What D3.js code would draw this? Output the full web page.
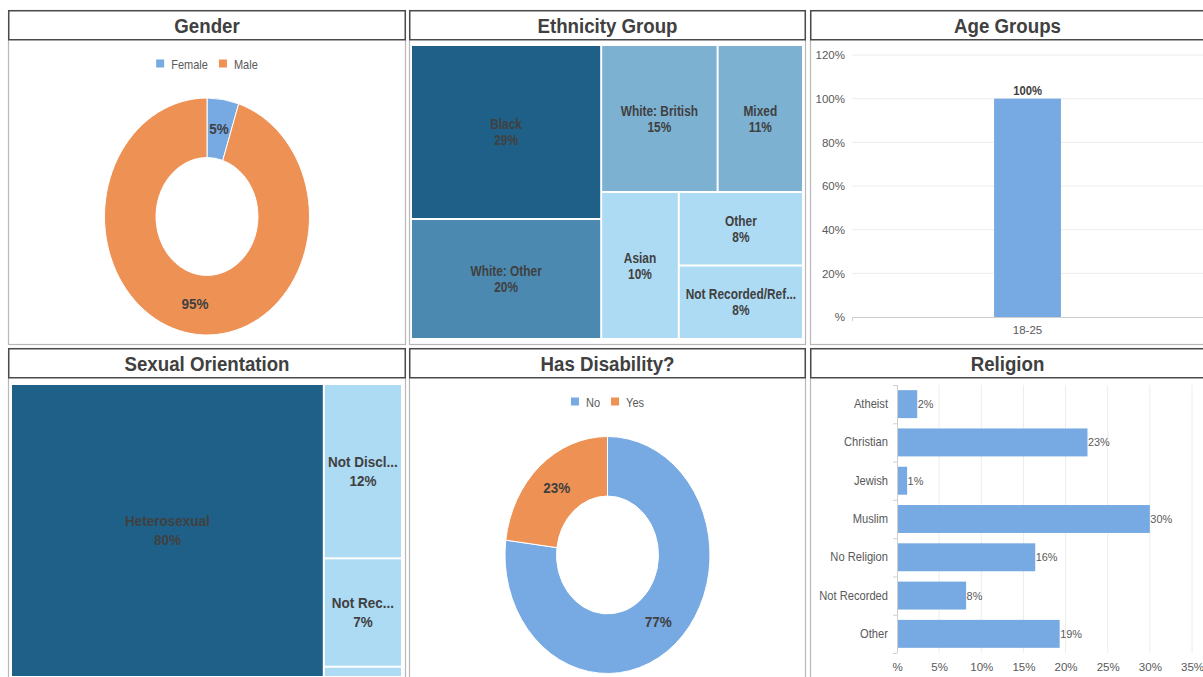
<!DOCTYPE html>
<html>
<head>
<meta charset="utf-8">
<script src="https://cdn.jsdelivr.net/npm/d3@7/dist/d3.min.js"></script>
<style>
  body { margin: 0; background: #fff; }
  svg { display: block; font-family: "Liberation Sans", Arial, sans-serif; }
</style>
</head>
<body>
<svg id="chart" width="1203" height="677"></svg>
<script>
// ---- data ----
const genderLabels = ["Female", "Male"];
const genderValues = [0.05, 0.95];

const ethnicityGroups = ["Black", "White: Other", "White: British", "Mixed", "Asian", "Other", "Not Recorded/Refused"];
const ethnicityValues = [0.29, 0.20, 0.15, 0.11, 0.10, 0.08, 0.08];

const ageGroups = ["18-25"];
const ageValues = [1.00];

const orientationGroups = ["Heterosexual", "Not Disclosed", "Not Recorded", "Other"];
const orientationValues = [0.80, 0.119, 0.074, 0.007];

const disabilityLabels = ["No", "Yes"];
const disabilityValues = [0.77, 0.23];

const religions = ["Atheist", "Christian", "Jewish", "Muslim", "No Religion", "Not Recorded", "Other"];
const religionValues = [0.024, 0.226, 0.012, 0.300, 0.164, 0.082, 0.193];

const ageTicks = [0, 0.2, 0.4, 0.6, 0.8, 1.0, 1.2];
const religionTicks = [0, 0.05, 0.10, 0.15, 0.20, 0.25, 0.30, 0.35];

// ---- look ----
const BLUE = "#77a9e3", ORANGE = "#ee9155";
const TXT = "#404040", AXTXT = "#595959";
const pct = v => v === 0 ? "%" : Math.round(v * 100) + "%";

const svg = d3.select("#chart");
const cols = [[8, 406], [409, 806], [810, 1215]];
const rows = [[10, 345], [348, 700]];

function putText(g, x, y, txt, size, weight, sx, fill, anchor) {
  return g.append("text")
    .attr("transform", `translate(${x},${y}) scale(${sx},1)`)
    .attr("text-anchor", anchor || "middle")
    .attr("font-size", size + "px")
    .attr("font-weight", weight)
    .attr("fill", fill || TXT)
    .text(txt);
}

function panel(ci, ri, title) {
  const [x0, x1] = cols[ci], [y0, y1] = rows[ri];
  svg.append("rect").attr("x", x0 + 0.5).attr("y", y0 + 0.5)
    .attr("width", x1 - x0 - 1).attr("height", y1 - y0 - 1)
    .attr("fill", "#fff").attr("stroke", "#b8b8b8").attr("stroke-width", 1.2);
  svg.append("rect").attr("x", x0 + 0.75).attr("y", y0 + 0.75)
    .attr("width", x1 - x0 - 1.5).attr("height", 29)
    .attr("fill", "#fff").attr("stroke", "#4a4a4a").attr("stroke-width", 1.5);
  putText(svg, (x0 + Math.min(x1, 1203)) / 2 + (ci === 2 ? 1 : 0), y0 + 23, title, 21, "bold", 0.89);
}

panel(0, 0, "Gender");
panel(1, 0, "Ethnicity Group");
panel(2, 0, "Age Groups");
panel(0, 1, "Sexual Orientation");
panel(1, 1, "Has Disability?");
panel(2, 1, "Religion");

// ---- donut helper ----
function donut(labels, values, cx, cy, legendY) {
  const g = svg.append("g");
  const color = d3.scaleOrdinal().domain(labels).range([BLUE, ORANGE]);
  const ry = 1.156;
  const arc = d3.arc().innerRadius(51).outerRadius(102.5);
  const pie = d3.pie().sort(null).value(d => d.value);
  const data = pie(labels.map((l, i) => ({ label: l, value: values[i] })));

  g.append("g").attr("transform", `translate(${cx},${cy}) scale(1,${ry})`)
    .selectAll("path").data(data).enter().append("path")
    .attr("d", arc)
    .attr("fill", d => color(d.data.label))
    .attr("stroke", "#fff").attr("stroke-width", 1)
    .attr("vector-effect", "non-scaling-stroke");

  data.forEach(d => {
    const [x, y] = arc.centroid(d);
    putText(g, cx + x, cy + y * ry + 5, pct(d.data.value), 15, "bold", 0.9);
  });

  // legend
  const lg = g.append("g");
  let x = 0;
  labels.forEach((l, i) => {
    lg.append("rect").attr("x", x).attr("y", -4.5).attr("width", 8).attr("height", 8).attr("fill", color(l));
    const t = putText(lg, x + 15, 4.5, l, 12, "normal", 0.92, AXTXT, "start");
    x += 15 + t.node().getComputedTextLength() * 0.92 + 11;
  });
  lg.attr("transform", `translate(${cx - (x - 11) / 2},${legendY})`);
}

donut(genderLabels, genderValues, 207, 216.5, 64);
donut(disabilityLabels, disabilityValues, 607.5, 555, 402);

// ---- treemap helper ----
function fitText(t, full, maxW, sx) {
  t.text(full);
  let s = full;
  while (t.node().getComputedTextLength() * sx > maxW && s.length > 1) {
    s = s.slice(0, -1);
    t.text(s.trimEnd() + "...");
  }
}

function treemap(groups, values, x0, y0, w, h, color, font, sx, lineGap, margin) {
  const root = d3.hierarchy({ children: groups.map((n, i) => ({ name: n, value: values[i] })) })
    .sum(d => d.value || 0);
  d3.treemap().tile(d3.treemapBinary).size([w, h]).paddingInner(2)(root);
  const g = svg.append("g").attr("transform", `translate(${x0},${y0})`);
  const cells = g.selectAll("g").data(root.leaves()).enter().append("g");
  cells.append("rect")
    .attr("x", d => d.x0).attr("y", d => d.y0)
    .attr("width", d => d.x1 - d.x0).attr("height", d => d.y1 - d.y0)
    .attr("fill", d => color(d.data.value));
  cells.each(function (d) {
    const cw = d.x1 - d.x0, ch = d.y1 - d.y0;
    if (ch < 30) return;
    const cxm = (d.x0 + d.x1) / 2, cym = (d.y0 + d.y1) / 2;
    const sel = d3.select(this);
    const t1 = putText(sel, cxm, cym - lineGap / 2 + font * 0.36, "", font, "bold", sx);
    fitText(t1, d.data.name, cw - margin, sx);
    putText(sel, cxm, cym + lineGap / 2 + font * 0.36, pct(d.data.value), font, "bold", sx);
  });
}

const ethColor = d3.scaleThreshold().domain([0.105, 0.195, 0.25])
  .range(["#aedbf4", "#7cb1d2", "#4b89b0", "#1f6088"]);
treemap(ethnicityGroups, ethnicityValues, 412, 46, 390, 292, ethColor, 14, 0.85, 16, 8);

const soColor = d3.scaleThreshold().domain([0.25]).range(["#aedbf4", "#1f6088"]);
treemap(orientationGroups, orientationValues, 12, 385, 389, 291, soColor, 15, 0.9, 19, 6);

// ---- age groups column chart ----
{
  const g = svg.append("g");
  const y = d3.scaleLinear().domain([0, 1.2]).range([317, 55]);
  const x = d3.scaleBand().domain(ageGroups).range([852, 1203]).padding(0.68);

  g.selectAll("line.grid").data(ageTicks.slice(1)).enter().append("line")
    .attr("x1", 852).attr("x2", 1215).attr("y1", d => y(d)).attr("y2", d => y(d))
    .attr("stroke", "#ececec").attr("stroke-width", 1);

  const ya = g.append("g").attr("transform", "translate(852,0)")
    .call(d3.axisLeft(y).tickValues(ageTicks).tickSize(0).tickPadding(7).tickFormat(pct));
  ya.select(".domain").remove();
  ya.selectAll("text").attr("font-size", "11.5px").attr("fill", AXTXT).attr("font-family", null);

  g.selectAll("rect.bar").data(ageGroups).enter().append("rect")
    .attr("x", d => x(d)).attr("width", x.bandwidth())
    .attr("y", (d, i) => y(ageValues[i])).attr("height", (d, i) => y(0) - y(ageValues[i]))
    .attr("fill", BLUE);

  ageGroups.forEach((d, i) => {
    putText(g, x(d) + x.bandwidth() / 2, y(ageValues[i]) - 4, pct(ageValues[i]), 12.5, "bold", 0.9);
  });

  g.append("line").attr("x1", 852).attr("x2", 1215).attr("y1", 317.5).attr("y2", 317.5)
    .attr("stroke", "#cfcfcf");
  g.append("line").attr("x1", 852.5).attr("x2", 852.5).attr("y1", 317).attr("y2", 321)
    .attr("stroke", "#cfcfcf");

  const xa = g.append("g").attr("transform", "translate(0,317)")
    .call(d3.axisBottom(x).tickSize(0).tickPadding(9));
  xa.select(".domain").remove();
  xa.selectAll("text").attr("font-size", "11.5px").attr("fill", AXTXT).attr("font-family", null);
}

// ---- religion bar chart ----
{
  const g = svg.append("g");
  const x = d3.scaleLinear().domain([0, 0.35]).range([897, 1192]);
  const y = d3.scaleBand().domain(religions).range([385, 653]).paddingInner(0.27).paddingOuter(0.135);

  g.selectAll("line.grid").data(religionTicks.slice(1)).enter().append("line")
    .attr("x1", d => x(d)).attr("x2", d => x(d)).attr("y1", 385).attr("y2", 653)
    .attr("stroke", "#ececec");

  g.selectAll("rect.bar").data(religions).enter().append("rect")
    .attr("x", x(0)).attr("y", d => y(d))
    .attr("width", (d, i) => x(religionValues[i]) - x(0)).attr("height", y.bandwidth())
    .attr("fill", BLUE);

  religions.forEach((d, i) => {
    putText(g, x(religionValues[i]) + 0.5, y(d) + y.bandwidth() / 2 + 4, pct(religionValues[i]), 11.5, "normal", 0.95, AXTXT, "start");
    putText(g, 888, y(d) + y.bandwidth() / 2 + 4, d, 12, "normal", 0.93, AXTXT, "end");
  });

  // category axis line with ticks at band boundaries
  g.append("line").attr("x1", 897.5).attr("x2", 897.5).attr("y1", 385).attr("y2", 653).attr("stroke", "#cfcfcf");
  const step = y.step();
  g.selectAll("line.tk").data(d3.range(religions.length + 1)).enter().append("line")
    .attr("x1", 893).attr("x2", 897).attr("y1", i => 385 + i * step + 0.5).attr("y2", i => 385 + i * step + 0.5)
    .attr("stroke", "#cfcfcf");

  const xa = g.append("g").attr("transform", "translate(0,653)")
    .call(d3.axisBottom(x).tickValues(religionTicks).tickSize(0).tickPadding(10).tickFormat(pct));
  xa.select(".domain").remove();
  xa.selectAll("text").attr("font-size", "11.5px").attr("fill", AXTXT).attr("font-family", null);
}
</script>
</body>
</html>
